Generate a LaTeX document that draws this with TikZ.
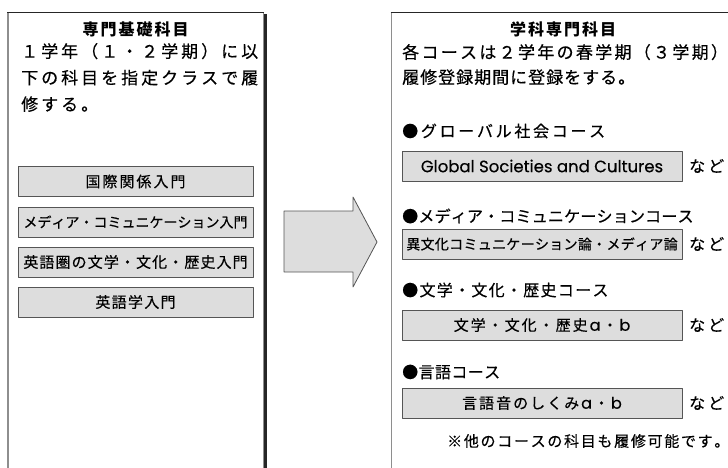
\documentclass[tikz,border=0pt]{standalone}
\usepackage{fontspec}
\setmainfont{Noto Sans CJK JP}[FakeBold=0.4, BoldFeatures={FakeBold=0}]
\newfontfamily\lat{Poppins}[FakeBold=0.3]
\definecolor{boxfill}{HTML}{DDDDDD}
\definecolor{boxline}{HTML}{555555}
\definecolor{frameline}{HTML}{8E8E8E}
\makeatletter
% spaced{gap}{text}: puts a gap between the characters
\newcommand\spaced[2]{\begingroup\let\sp@gap\@empty
  \@tfor\sp@c:=#2\do{\sp@gap\sp@c\def\sp@gap{\hspace{#1}}}\endgroup}
\makeatother
\newcommand\la[1]{{\lat\fontsize{16}{18}\selectfont #1}}
\begin{document}
\begin{tikzpicture}[x=1pt, y=-1pt, line join=round, inner sep=0pt,
	midashi/.style={font=\fontsize{16}{18}\selectfont\bfseries},
	honbun/.style={anchor=west, align=left, font=\fontsize{17}{26.5}\selectfont},
	course/.style={anchor=west, font=\fontsize{16}{18}\selectfont},
	kamoku/.style={draw=boxline, fill=boxfill, line width=0.8pt, minimum height=30pt, font=\fontsize{15}{17}\selectfont},
	nado/.style={anchor=west, font=\fontsize{16}{18}\selectfont}]
	
	\def\top{12.5} \def\bot{472}
	\useasboundingbox (0,0) rectangle (728,467);
	\clip (0,0) rectangle (728,467);
	
	% left frame
	\draw[frameline, line width=1.6pt] (7.8,\top)--(7.8,\bot);
	\draw[frameline, line width=1.2pt] (263.3,\top)--(263.3,\bot);
	\draw[black!85, line width=2.6pt] (265.6,14)--(265.6,\bot);
	\draw[black!85, line width=1.2pt] (7,\top)--(263.9,\top);
	% right frame
	\draw[frameline, line width=1.6pt] (391.5,\top)--(391.5,\bot);
	\draw[black!85, line width=1.2pt] (390.7,\top)--(730,\top);
	
	\node[midashi] (kisoTitle) at (135.5,29) {\spaced{2pt}{専門基礎科目}};
	\node[honbun] (kisoText) at (21,77.5) {\spaced{3pt}{１学年（１・２学期）に以}\\
		\spaced{3pt}{下の科目を指定クラスで履}\\
		\spaced{3pt}{修する。}};
	
	\node[kamoku, minimum width=235pt] (kokusai) at (135.5,181.5) {\spaced{2pt}{国際関係入門}};
	\node[kamoku, minimum width=235pt, font=\fontsize{14}{16}\selectfont] (media) at (135.5,222) {\spaced{0pt}{メディア・コミュニケーション入門}};
	\node[kamoku, minimum width=235pt] (bungaku) at (135.5,262) {\spaced{1.1pt}{英語圏の文学・文化・歴史入門}};
	\node[kamoku, minimum width=235pt] (eigogaku) at (135.5,302) {\spaced{1.3pt}{英語学入門}};
	
	% block arrow
	\draw[boxline, fill=boxfill, line width=0.8pt] (284,211)--(353,211)--(353,197)--(377,242)
		--(353,287)--(353,272)--(284,272)--cycle;
	
	\node[midashi] (senmonTitle) at (563,29) {\spaced{2pt}{学科専門科目}};
	\node[honbun, font=\fontsize{17}{25}\selectfont] (senmonText) at (402,64.5) {\spaced{2.3pt}{各コースは２学年の春学期（３学期）}\\
		\spaced{1pt}{履修登録期間に登録をする。}};
	
	\node[course] (global) at (402,131) {\spaced{2.7pt}{●グローバル社会コース}};
	\node[kamoku, minimum width=280pt, font=\lat\fontsize{16.5}{18}\selectfont] (globalBox) at (542,166) {Global Societies and Cultures};
	\node[nado] (nado1) at (689,166) {\spaced{3pt}{など}};
	
	\node[course] (mediaC) at (402,216) {\spaced{0.2pt}{●メディア・コミュニケーションコース}};
	\node[kamoku, minimum width=280pt, font=\fontsize{14}{16}\selectfont] (mediaBox) at (542,244) {\spaced{0.3pt}{異文化コミュニケーション論・メディア論}};
	\node[nado] (nado2) at (689,244) {\spaced{3pt}{など}};
	
	\node[course] (bunka) at (402,290) {\spaced{1.3pt}{●文学・文化・歴史コース}};
	\node[kamoku, minimum width=280pt] (bunkaBox) at (542,325) {\spaced{2pt}{文学・文化・歴史{{\la a}}・{{\la b}}}};
	\node[nado] (nado3) at (689,325) {\spaced{3pt}{など}};
	
	\node[course] (gengo) at (402,372) {\spaced{0.4pt}{●言語コース}};
	\node[kamoku, minimum width=280pt] (gengoBox) at (542,403) {\spaced{2pt}{言語音のしくみ{{\la a}}・{{\la b}}}};
	\node[nado] (nado4) at (689,403) {\spaced{3pt}{など}};
	
	\node[anchor=west, font=\fontsize{15}{17}\selectfont] (chui) at (447,441) {\spaced{1.7pt}{※他のコースの科目も履修可能です。}};
	
\end{tikzpicture}
\end{document}
